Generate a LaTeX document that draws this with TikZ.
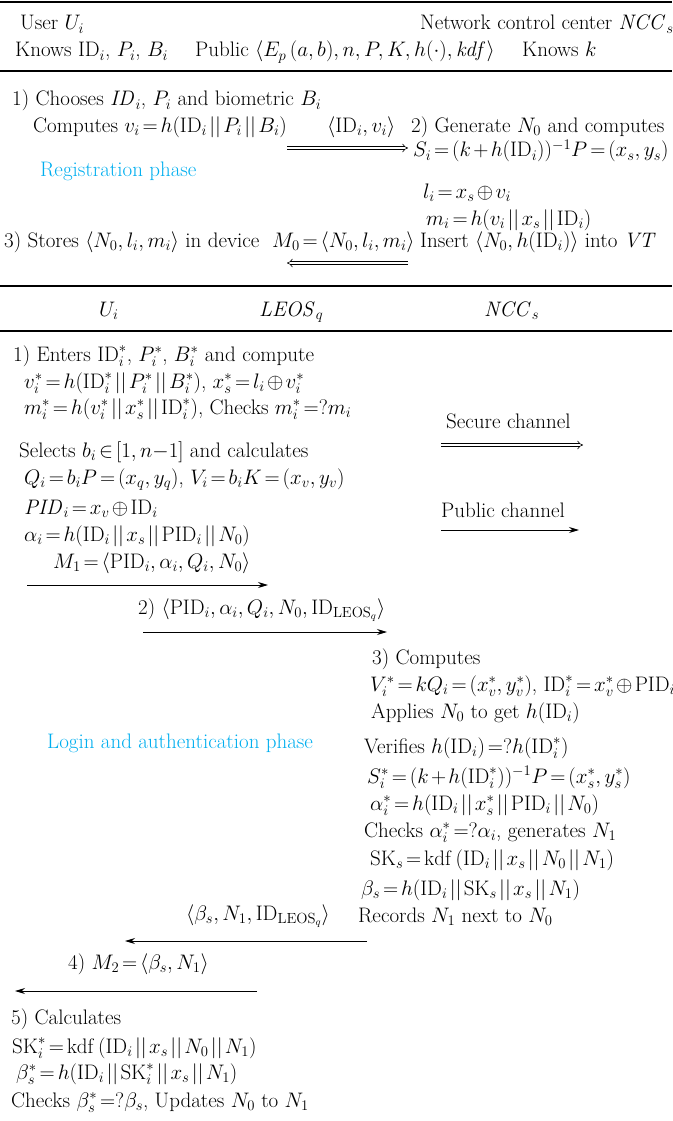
\RequirePackage{fix-cm}
\documentclass[tikz,border=0pt]{standalone}
\usetikzlibrary{arrows.meta}
\definecolor{phase}{RGB}{0,174,239}
\newcommand{\cc}{\mathbin{||}}
\newcommand{\rid}{\mathrm{ID}}
\begin{document}
\begin{tikzpicture}[x=1pt,y=-1pt,
  every node/.style={font=\fontsize{21}{25}\selectfont, inner sep=0pt, anchor=base west},
  phasetxt/.style={text=phase},
  rulel/.style={line width=1.3pt},
  msg/.style={line width=0.9pt, -{Stealth[length=10pt,width=6pt]}},
  dbl/.style={double, double distance=2.4pt, line width=0.6pt, -{Implies}}]
\thickmuskip=2.5mu plus 2mu \medmuskip=2mu plus 1mu
\useasboundingbox (0,0) rectangle (672,1121);
% rules
\coordinate (r1a) at (0,2); \coordinate (r1b) at (672,2);
\coordinate (r2a) at (0,71); \coordinate (r2b) at (672,71);
\coordinate (r3a) at (0,286); \coordinate (r3b) at (672,286);
\coordinate (r4a) at (0,331); \coordinate (r4b) at (672,331);
\draw[rulel] (r1a) -- (r1b);
\draw[rulel] (r2a) -- (r2b);
\draw[rulel] (r3a) -- (r3b);
\draw[rulel] (r4a) -- (r4b);
% header
\node (h1) at (20,30) {User $U_i$};
\node (h2) at (420,30) {Network control center $\mathit{NCC}_s$};
\node (h3) at (15,57) {Knows $\rid_i$, $P_i$, $B_i$};
\node (h4) at (195,57) {Public $\langle E_p\,(a, b), n, P, K, h(\cdot), \mathit{kdf}\rangle$};
\node (h5) at (522,57) {Knows $k$};
% registration
\node (g1) at (12,106) {1) Chooses $\mathit{ID}_i$, $P_i$ and biometric $B_i$};
\node (g2) at (33,132) {Computes $v_i = h(\rid_i \cc P_i \cc B_i)$};
\node (g3) at (327,132) {$\langle \rid_i, v_i\rangle$};
\node (g4) at (411,132) {2) Generate $N_0$ and computes};
\node (g5) at (413,157) {$S_i = (k + h(\rid_i))^{-1} P = (x_s, y_s)$};
\node[phasetxt] (g6) at (40,176) {Registration phase};
\node (g7) at (423,198) {$l_i = x_s \oplus v_i$};
\node (g8) at (426,225) {$m_i = h(v_i \cc x_s \cc \rid_i)$};
\node (g9) at (4,247) {3) Stores $\langle N_0, l_i, m_i\rangle$ in device};
\node (g10) at (272,247) {$M_0 = \langle N_0, l_i, m_i\rangle$};
\node (g11) at (420,247) {Insert $\langle N_0, h(\rid_i)\rangle$ into $\mathit{VT}$};
\coordinate (d1a) at (287,148); \coordinate (d1b) at (408,148);
\draw[dbl] (d1a) -- (d1b);
\coordinate (d2a) at (408,263); \coordinate (d2b) at (287,263);
\draw[dbl] (d2a) -- (d2b);
% login header
\node (l1) at (99,316) {$U_i$};
\node (l2) at (259,316) {$\mathit{LEOS}_q$};
\node (l3) at (484,316) {$\mathit{NCC}_s$};
% login
\node (u1) at (13,361) {1) Enters $\rid_i^*$, $P_i^*$, $B_i^*$ and compute};
\node (u2) at (24,388) {$v_i^* = h(\rid_i^* \cc P_i^* \cc B_i^*)$, $x_s^* = l_i \oplus v_i^*$};
\node (u3) at (24,414) {$m_i^* = h(v_i^* \cc x_s^* \cc \rid_i^*)$, Checks $m_i^* = ?m_i$};
\node (u4) at (19,457) {Selects $b_i \in [1, n{-}1]$ and calculates};
\node (u5) at (24,484) {$Q_i = b_iP = (x_q, y_q)$, $V_i = b_iK = (x_v, y_v)$};
\node (u6) at (24,514) {$\mathit{PID}_i = x_v \oplus \rid_i$};
\node (u7) at (24,541) {$\alpha_i = h(\rid_i \cc x_s \cc \mathrm{PID}_i \cc N_0)$};
\node (u8) at (53,568) {$M_1 = \langle \mathrm{PID}_i, \alpha_i, Q_i, N_0\rangle$};
\node (k1) at (446,428) {Secure channel};
\node (k2) at (441,517) {Public channel};
\coordinate (k1a) at (441,445); \coordinate (k1b) at (583,445);
\draw[dbl] (k1a) -- (k1b);
\coordinate (k2a) at (441,530); \coordinate (k2b) at (579,530);
\draw[msg] (k2a) -- (k2b);
\coordinate (m1a) at (27,585); \coordinate (m1b) at (268,585);
\draw[msg] (m1a) -- (m1b);
\node (s1) at (138,614) {2) $\langle \mathrm{PID}_i, \alpha_i, Q_i, N_0, \rid_{\mathrm{LEOS}_q}\rangle$};
\coordinate (m2a) at (143,632); \coordinate (m2b) at (387,632);
\draw[msg] (m2a) -- (m2b);
% NCC
\node (n1) at (372,664) {3) Computes};
\node (n2) at (370,691) {$V_i^* = kQ_i = (x_v^*, y_v^*)$, $\rid_i^* = x_v^* \oplus \mathrm{PID}_i$};
\node (n3) at (371,718) {Applies $N_0$ to get $h(\rid_i)$};
\node[phasetxt] (n0) at (47,748) {Login and authentication phase};
\node (n4) at (364,753) {Verifies $h(\rid_i) = ?h(\rid_i^*)$};
\node (n5) at (367,783) {$S_i^* = (k + h(\rid_i^*))^{-1}P = (x_s^*, y_s^*)$};
\node (n6) at (370,810) {$\alpha_i^* = h(\rid_i \cc x_s^* \cc \mathrm{PID}_i \cc N_0)$};
\node (n7) at (364,837) {Checks $\alpha_i^* = ?\alpha_i$, generates $N_1$};
\node (n8) at (370,865) {$\mathrm{SK}_s = \mathrm{kdf}\,(\rid_i \cc x_s \cc N_0 \cc N_1)$};
\node (n9) at (361,895) {$\beta_s = h(\rid_i \cc \mathrm{SK}_s \cc x_s \cc N_1)$};
\node (n10) at (358,922) {Records $N_1$ next to $N_0$};
\node (s2) at (186,920) {$\langle \beta_s, N_1, \rid_{\mathrm{LEOS}_q}\rangle$};
\coordinate (m3a) at (367,941); \coordinate (m3b) at (125,941);
\draw[msg] (m3a) -- (m3b);
\node (s3) at (68,969) {4) $M_2 = \langle \beta_s, N_1\rangle$};
\coordinate (m4a) at (257,991); \coordinate (m4b) at (15,991);
\draw[msg] (m4a) -- (m4b);
% final
\node (f1) at (11,1024) {5) Calculates};
\node (f2) at (12,1053) {$\mathrm{SK}_i^* = \mathrm{kdf}\,(\rid_i \cc x_s \cc N_0 \cc N_1)$};
\node (f3) at (16,1079) {$\beta_s^* = h(\rid_i \cc \mathrm{SK}_i^* \cc x_s \cc N_1)$};
\node (f4) at (11,1107) {Checks $\beta_s^* = ?\beta_s$, Updates $N_0$ to $N_1$};
\end{tikzpicture}
\end{document}
